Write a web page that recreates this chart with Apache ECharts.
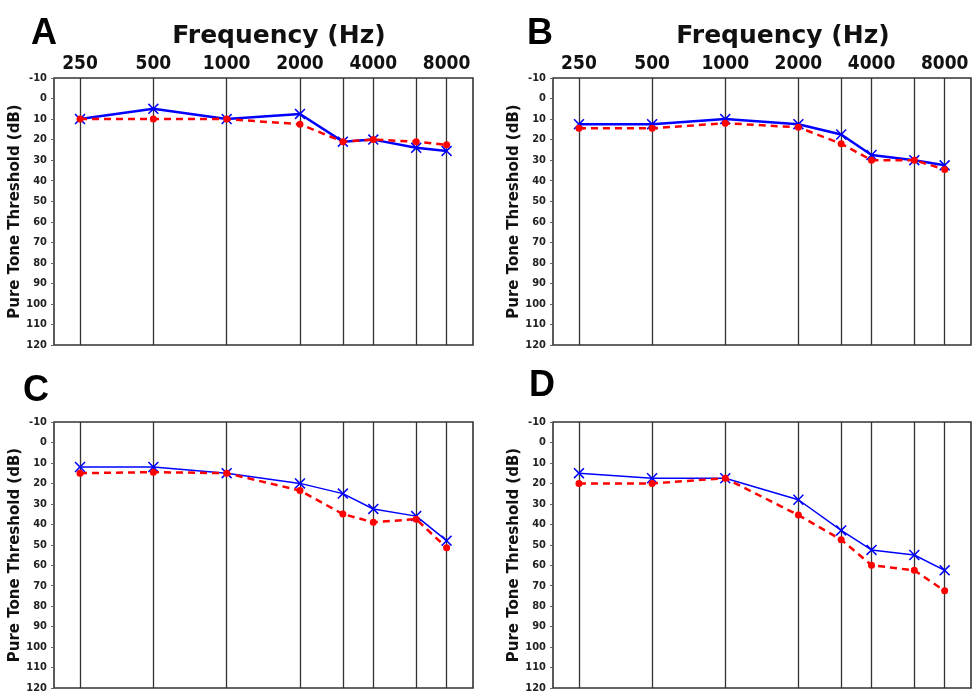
<!DOCTYPE html>
<html>
<head>
<meta charset="utf-8">
<script src="https://cdn.jsdelivr.net/npm/echarts@6/dist/echarts.min.js"></script>
<style>
html,body{margin:0;padding:0;background:#fff;}
#chart{width:978px;height:696px;}
</style>
</head>
<body>
<div id="chart"></div>
<script>
// ---- data ----
const freqs = [250, 500, 1000, 2000, 3000, 4000, 6000, 8000];
const labelFreqs = [250, 500, 1000, 2000, 4000, 8000];
const panelLetters = ['A', 'B', 'C', 'D'];
const xTitle = 'Frequency (Hz)';
const yTitle = 'Pure Tone Threshold (dB)';
const aBlue = [10, 5, 10, 7.5, 21, 20, 24, 25.5];
const aRed  = [10, 10, 10, 12.5, 21, 20, 21, 22.5];
const bBlue = [12.5, 12.5, 10, 12.5, 17.5, 27.5, 30, 32.5];
const bRed  = [14.5, 14.5, 12, 14, 22, 30, 30, 34.5];
const cBlue = [12, 12, 15, 20, 25, 32.5, 36, 48];
const cRed  = [15, 14.5, 15, 23.5, 35, 39, 37.5, 51.5];
const dBlue = [15, 17.5, 17.5, 28, 43, 52.5, 55, 62.5];
const dRed  = [20, 20, 17.5, 35.5, 47.5, 60, 62.5, 72.5];

const blueSets = [aBlue, bBlue, cBlue, dBlue];
const redSets = [aRed, bRed, cRed, dRed];

// ---- layout ----
const grids = [
  {left: 54, top: 78, width: 419, height: 267},
  {left: 553, top: 78, width: 418, height: 267},
  {left: 54, top: 422, width: 419, height: 266},
  {left: 553, top: 422, width: 418, height: 266}
];
const lg = v => Math.log2(v);
const xMin = lg(freqs[0]) - 0.355;
const xMax = lg(freqs[freqs.length - 1]) + 0.36;

const xMark = 'path://M0,1 L1,0 L5,4 L9,0 L10,1 L6,5 L10,9 L9,10 L5,6 L1,10 L0,9 L4,5 Z';
const letterPos = [[44, 34], [540, 34], [36, 391], [542, 386]];
const titlePos = [[279, 36], [783, 36]];

const option = {
  animation: false,
  backgroundColor: '#fff',
  grid: grids.map(g => Object.assign({
    show: true, borderColor: '#333', borderWidth: 1.6, backgroundColor: 'transparent',
    containLabel: false, outerBoundsMode: 'none'
  }, g)),
  xAxis: grids.map((g, i) => ({
    type: 'value', gridIndex: i, position: 'top', min: xMin, max: xMax,
    axisLine: {show: false},
    axisTick: {show: false, customValues: freqs.map(lg)},
    axisLabel: {
      show: i < 2, customValues: labelFreqs.map(lg), margin: 4,
      formatter: v => String(Math.round(Math.pow(2, v))),
      fontFamily: 'DejaVu Sans Condensed, DejaVu Sans', fontWeight: 'bold', fontSize: 19, color: '#111'
    },
    splitLine: {show: true, lineStyle: {color: '#333', width: 1.3}}
  })),
  yAxis: grids.map((g, i) => ({
    type: 'value', gridIndex: i, inverse: true, min: -10, max: 120, interval: 10,
    name: yTitle, nameLocation: 'middle', nameRotate: 90, nameGap: 26,
    nameTextStyle: {fontFamily: 'DejaVu Sans', fontWeight: 'bold', fontSize: 15, color: '#111'},
    axisLine: {show: false},
    axisTick: {show: true, length: 3, lineStyle: {color: '#666'}},
    axisLabel: {margin: 7, fontFamily: 'DejaVu Sans Condensed, DejaVu Sans, sans-serif', fontWeight: 'bold', fontSize: 11, color: '#222'},
    splitLine: {show: false}
  })),
  graphic: panelLetters.map((t, i) => ({
    type: 'text', x: letterPos[i][0], y: letterPos[i][1],
    style: {text: t, align: 'center', verticalAlign: 'middle', font: 'bold 36px "Liberation Sans"', fill: '#000'}
  })).concat(titlePos.map(p => ({
    type: 'text', x: p[0], y: p[1],
    style: {text: xTitle, align: 'center', verticalAlign: 'middle', font: 'bold 25px "DejaVu Sans"', fill: '#111'}
  }))),
  series: []
};

for (let i = 0; i < 4; i++) {
  option.series.push({
    type: 'line', xAxisIndex: i, yAxisIndex: i,
    data: freqs.map((f, k) => [lg(f), blueSets[i][k]]),
    symbol: xMark, symbolSize: 11,
    itemStyle: {color: '#0000ff'},
    lineStyle: {color: '#0000ff', width: i < 2 ? 2.5 : 1.5},
    z: 3
  });
  option.series.push({
    type: 'line', xAxisIndex: i, yAxisIndex: i,
    data: freqs.map((f, k) => [lg(f), redSets[i][k]]),
    symbol: 'circle', symbolSize: 7,
    itemStyle: {color: '#ff0000'},
    lineStyle: {color: '#ff0000', width: 2.5, type: [7, 5]},
    z: 4
  });
}

const chart = echarts.init(document.getElementById('chart'));
chart.setOption(option);
</script>
</body>
</html>
